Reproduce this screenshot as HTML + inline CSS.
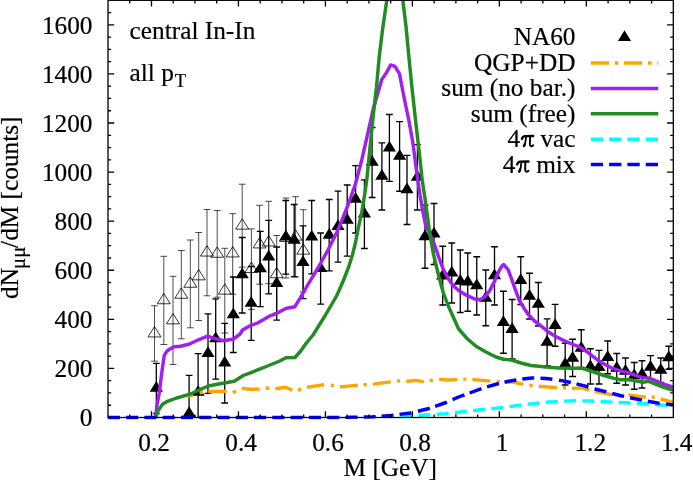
<!DOCTYPE html>
<html><head><meta charset="utf-8"><title>plot</title>
<style>
html,body{margin:0;padding:0;background:#fff;}
body{width:693px;height:481px;overflow:hidden;}
svg{display:block;will-change:transform;}
svg text{font-family:"Liberation Serif",serif;fill:#000;stroke:#000;stroke-width:0.2px;}
</style></head><body>
<svg width="693" height="481" viewBox="0 0 693 481">
<rect x="0" y="0" width="693" height="481" fill="#fff"/>
<defs><clipPath id="pc"><rect x="107.4" y="-2" width="566.5" height="420.1"/></clipPath><clipPath id="pc2"><rect x="107.7" y="-2" width="566.1" height="421.7"/></clipPath></defs>
<g clip-path="url(#pc)">
<path d="M154.50 305.80V361.20M151.10 305.80h6.8M151.10 361.20h6.8M163.80 256.30V344.50M160.40 256.30h6.8M160.40 344.50h6.8M173.00 276.30V364.50M169.60 276.30h6.8M169.60 364.50h6.8M181.30 250.50V338.80M177.90 250.50h6.8M177.90 338.80h6.8M190.30 240.00V327.80M186.90 240.00h6.8M186.90 327.80h6.8M198.70 232.50V320.50M195.30 232.50h6.8M195.30 320.50h6.8M207.00 209.50V295.80M203.60 209.50h6.8M203.60 295.80h6.8M217.20 210.50V297.20M213.80 210.50h6.8M213.80 297.20h6.8M224.80 248.30V333.00M221.40 248.30h6.8M221.40 333.00h6.8M232.70 213.70V294.20M229.30 213.70h6.8M229.30 294.20h6.8M242.20 184.20V267.20M238.80 184.20h6.8M238.80 267.20h6.8M251.40 228.90V309.40M248.00 228.90h6.8M248.00 309.40h6.8M259.60 205.30V284.20M256.20 205.30h6.8M256.20 284.20h6.8M268.70 201.30V283.70M265.30 201.30h6.8M265.30 283.70h6.8M276.70 235.50V313.00M273.30 235.50h6.8M273.30 313.00h6.8M286.00 198.00V278.00M282.60 198.00h6.8M282.60 278.00h6.8M295.60 196.70V277.00M292.20 196.70h6.8M292.20 277.00h6.8M303.30 209.70V292.00M299.90 209.70h6.8M299.90 292.00h6.8" stroke="#000" stroke-width="0.7" fill="none"/>
<path d="M154.50 326.60L148.00 336.95L161.00 336.95ZM163.80 293.40L157.30 303.75L170.30 303.75ZM173.00 313.50L166.50 323.85L179.50 323.85ZM181.30 287.90L174.80 298.25L187.80 298.25ZM190.30 276.90L183.80 287.25L196.80 287.25ZM198.70 269.50L192.20 279.85L205.20 279.85ZM207.00 245.70L200.50 256.05L213.50 256.05ZM217.20 246.90L210.70 257.25L223.70 257.25ZM224.80 283.80L218.30 294.15L231.30 294.15ZM232.70 246.60L226.20 256.95L239.20 256.95ZM242.20 218.80L235.70 229.15L248.70 229.15ZM251.40 262.20L244.90 272.55L257.90 272.55ZM259.60 237.60L253.10 247.95L266.10 247.95ZM268.70 235.60L262.20 245.95L275.20 245.95ZM276.70 267.40L270.20 277.75L283.20 277.75ZM286.00 231.10L279.50 241.45L292.50 241.45ZM295.60 229.80L289.10 240.15L302.10 240.15ZM303.30 243.80L296.80 254.15L309.80 254.15Z" stroke="#000" stroke-width="0.8" fill="none" stroke-linejoin="miter"/>
<path d="M156.30 363.30V413.50M152.90 363.30h6.8M152.90 413.50h6.8M189.10 375.30V451.70M185.70 375.30h6.8M185.70 451.70h6.8M198.10 353.70V431.00M194.70 353.70h6.8M194.70 431.00h6.8M208.00 313.80V393.30M204.60 313.80h6.8M204.60 393.30h6.8M215.70 298.80V379.20M212.30 298.80h6.8M212.30 379.20h6.8M224.70 323.30V403.00M221.30 323.30h6.8M221.30 403.00h6.8M233.30 277.00V352.50M229.90 277.00h6.8M229.90 352.50h6.8M242.20 237.50V313.00M238.80 237.50h6.8M238.80 313.00h6.8M251.20 266.50V340.30M247.80 266.50h6.8M247.80 340.30h6.8M260.30 231.30V306.70M256.90 231.30h6.8M256.90 306.70h6.8M268.70 220.30V293.80M265.30 220.30h6.8M265.30 293.80h6.8M276.70 247.00V320.20M273.30 247.00h6.8M273.30 320.20h6.8M285.80 200.50V274.20M282.40 200.50h6.8M282.40 274.20h6.8M294.20 204.50V276.70M290.80 204.50h6.8M290.80 276.70h6.8M303.00 225.80V298.70M299.60 225.80h6.8M299.60 298.70h6.8M311.70 200.50V273.80M308.30 200.50h6.8M308.30 273.80h6.8M320.60 233.00V304.20M317.20 233.00h6.8M317.20 304.20h6.8M329.20 199.50V270.80M325.80 199.50h6.8M325.80 270.80h6.8M338.00 191.20V262.20M334.60 191.20h6.8M334.60 262.20h6.8M347.20 185.00V256.20M343.80 185.00h6.8M343.80 256.20h6.8M355.60 165.70V233.00M352.20 165.70h6.8M352.20 233.00h6.8M364.40 179.80V248.50M361.00 179.80h6.8M361.00 248.50h6.8M372.10 127.50V197.50M368.70 127.50h6.8M368.70 197.50h6.8M381.90 142.80V210.00M378.50 142.80h6.8M378.50 210.00h6.8M389.40 114.50V181.40M386.00 114.50h6.8M386.00 181.40h6.8M399.60 121.60V191.25M396.20 121.60h6.8M396.20 191.25h6.8M407.00 155.30V224.50M403.60 155.30h6.8M403.60 224.50h6.8M417.40 144.60V210.00M414.00 144.60h6.8M414.00 210.00h6.8M425.00 205.00V268.25M421.60 205.00h6.8M421.60 268.25h6.8M434.00 203.50V264.50M430.60 203.50h6.8M430.60 264.50h6.8M442.70 246.25V305.00M439.30 246.25h6.8M439.30 305.00h6.8M451.75 243.00V303.00M448.35 243.00h6.8M448.35 303.00h6.8M460.25 250.00V312.50M456.85 250.00h6.8M456.85 312.50h6.8M467.75 253.00V311.25M464.35 253.00h6.8M464.35 311.25h6.8M476.75 256.75V315.00M473.35 256.75h6.8M473.35 315.00h6.8M485.75 270.00V325.75M482.35 270.00h6.8M482.35 325.75h6.8M494.50 246.75V305.00M491.10 246.75h6.8M491.10 305.00h6.8M503.40 291.25V353.25M500.00 291.25h6.8M500.00 353.25h6.8M512.10 299.50V359.00M508.70 299.50h6.8M508.70 359.00h6.8M520.75 256.75V304.50M517.35 256.75h6.8M517.35 304.50h6.8M529.50 273.25V319.00M526.10 273.25h6.8M526.10 319.00h6.8M538.30 282.50V326.00M534.90 282.50h6.8M534.90 326.00h6.8M547.10 318.90V365.60M543.70 318.90h6.8M543.70 365.60h6.8M555.10 304.40V346.25M551.70 304.40h6.8M551.70 346.25h6.8M565.20 343.25V385.00M561.80 343.25h6.8M561.80 385.00h6.8M572.60 339.25V376.50M569.20 339.25h6.8M569.20 376.50h6.8M581.25 329.75V367.50M577.85 329.75h6.8M577.85 367.50h6.8M590.40 348.75V384.00M587.00 348.75h6.8M587.00 384.00h6.8M599.00 350.40V384.00M595.60 350.40h6.8M595.60 384.00h6.8M607.70 341.00V373.75M604.30 341.00h6.8M604.30 373.75h6.8M616.75 353.50V383.25M613.35 353.50h6.8M613.35 383.25h6.8M625.50 358.00V385.00M622.10 358.00h6.8M622.10 385.00h6.8M634.25 362.50V389.25M630.85 362.50h6.8M630.85 389.25h6.8M642.00 360.75V388.00M638.60 360.75h6.8M638.60 388.00h6.8M650.50 355.60V378.80M647.10 355.60h6.8M647.10 378.80h6.8M660.75 358.00V382.50M657.35 358.00h6.8M657.35 382.50h6.8M668.75 346.25V369.25M665.35 346.25h6.8M665.35 369.25h6.8" stroke="#000" stroke-width="1.3" fill="none"/>
<path d="M156.30 381.10L149.70 391.85L162.90 391.85ZM189.10 406.20L182.50 416.95L195.70 416.95ZM198.10 385.00L191.50 395.75L204.70 395.75ZM208.00 346.20L201.40 356.95L214.60 356.95ZM215.70 331.50L209.10 342.25L222.30 342.25ZM224.70 355.80L218.10 366.55L231.30 366.55ZM233.30 307.40L226.70 318.15L239.90 318.15ZM242.20 267.60L235.60 278.35L248.80 278.35ZM251.20 296.10L244.60 306.85L257.80 306.85ZM260.30 261.60L253.70 272.35L266.90 272.35ZM268.70 249.70L262.10 260.45L275.30 260.45ZM276.70 276.30L270.10 287.05L283.30 287.05ZM285.80 229.70L279.20 240.45L292.40 240.45ZM294.20 233.00L287.60 243.75L300.80 243.75ZM303.00 255.20L296.40 265.95L309.60 265.95ZM311.70 229.70L305.10 240.45L318.30 240.45ZM320.60 261.20L314.00 271.95L327.20 271.95ZM329.20 227.90L322.60 238.65L335.80 238.65ZM338.00 219.30L331.40 230.05L344.60 230.05ZM347.20 213.00L340.60 223.75L353.80 223.75ZM355.60 191.90L349.00 202.65L362.20 202.65ZM364.40 206.70L357.80 217.45L371.00 217.45ZM372.10 155.00L365.50 165.75L378.70 165.75ZM381.90 168.90L375.30 179.65L388.50 179.65ZM389.40 140.70L382.80 151.45L396.00 151.45ZM399.60 149.00L393.00 159.75L406.20 159.75ZM407.00 182.50L400.40 193.25L413.60 193.25ZM417.40 170.00L410.80 180.75L424.00 180.75ZM425.00 229.50L418.40 240.25L431.60 240.25ZM434.00 226.70L427.40 237.45L440.60 237.45ZM442.70 268.70L436.10 279.45L449.30 279.45ZM451.75 265.70L445.15 276.45L458.35 276.45ZM460.25 274.10L453.65 284.85L466.85 284.85ZM467.75 274.70L461.15 285.45L474.35 285.45ZM476.75 278.40L470.15 289.15L483.35 289.15ZM485.75 290.90L479.15 301.65L492.35 301.65ZM494.50 268.40L487.90 279.15L501.10 279.15ZM503.40 315.20L496.80 325.95L510.00 325.95ZM512.10 322.20L505.50 332.95L518.70 332.95ZM520.75 273.20L514.15 283.95L527.35 283.95ZM529.50 288.90L522.90 299.65L536.10 299.65ZM538.30 297.10L531.70 307.85L544.90 307.85ZM547.10 335.00L540.50 345.75L553.70 345.75ZM555.10 318.20L548.50 328.95L561.70 328.95ZM565.20 357.10L558.60 367.85L571.80 367.85ZM572.60 350.90L566.00 361.65L579.20 361.65ZM581.25 341.10L574.65 351.85L587.85 351.85ZM590.40 359.50L583.80 370.25L597.00 370.25ZM599.00 360.20L592.40 370.95L605.60 370.95ZM607.70 350.30L601.10 361.05L614.30 361.05ZM616.75 361.10L610.15 371.85L623.35 371.85ZM625.50 364.10L618.90 374.85L632.10 374.85ZM634.25 368.40L627.65 379.15L640.85 379.15ZM642.00 367.20L635.40 377.95L648.60 377.95ZM650.50 359.90L643.90 370.65L657.10 370.65ZM660.75 363.00L654.15 373.75L667.35 373.75ZM668.75 350.50L662.15 361.25L675.35 361.25Z" stroke="none" fill="#000"/>
</g>
<g clip-path="url(#pc2)">
<g fill="none" stroke-width="3.45" stroke-linejoin="round">
<path d="M188.80 396.30 L193.00 395.20M199.50 392.90 L202.90 392.30M208.40 391.50 L226.70 391.20M233.00 392.90 L236.00 390.80M241.60 388.40 L250.50 389.30 L259.50 389.30M265.60 388.30 L269.40 388.10M275.40 388.80 L285.70 387.30 L292.30 390.30M297.90 390.20 L301.30 389.20M306.90 387.30 L324.20 384.60M330.75 385.40 L334.00 385.50M339.75 386.90 L357.90 385.30M363.50 384.80 L366.90 384.60M372.90 384.10 L390.70 381.90M396.90 381.10 L400.10 380.90M406.30 381.50 L416.00 380.40 L423.90 381.90M429.70 380.50 L432.90 380.30M439.10 379.10 L448.00 380.00 L457.30 379.60M463.30 379.10 L466.30 379.10M472.40 379.40 L490.40 381.10M496.60 381.60 L499.80 381.80M506.30 381.80 L512.90 382.10 L523.20 384.30M529.40 385.20 L532.60 385.60M538.80 386.20 L557.00 387.70M563.00 387.70 L566.00 387.80M572.00 388.40 L581.60 387.70 L589.40 390.20M594.80 391.40 L612.70 394.90M618.70 395.60 L622.30 396.00M628.30 394.90 L645.70 397.20M651.70 397.20 L654.70 397.30M660.60 399.00 L673.40 402.30" stroke="#ffa500"/>
<path d="M155.60 417.50 L157.00 405.00 L159.20 393.30 L161.70 373.30 L164.20 355.80 L166.25 352.00 L168.30 350.00 L171.25 348.25 L174.20 346.70 L180.50 346.20 L189.00 344.30 L198.50 339.80 L207.50 336.20 L215.00 338.60 L224.00 340.70 L233.50 339.00 L240.00 334.20 L242.50 330.00 L250.00 325.75 L257.50 323.00 L265.00 318.75 L270.00 315.80 L276.70 313.30 L285.80 308.50 L294.70 306.80 L300.00 298.30 L308.30 284.00 L318.00 268.00 L328.00 250.00 L338.00 230.00 L348.00 205.00 L355.50 183.75 L361.75 160.00 L368.00 132.50 L373.00 110.00 L378.00 92.50 L381.80 79.50 L386.50 72.60 L390.60 65.00 L395.00 66.40 L399.50 73.90 L402.50 89.50 L406.20 108.00 L408.80 120.00 L412.80 142.50 L417.50 178.00 L420.10 195.60 L422.50 209.60 L425.60 225.20 L429.50 233.50 L433.30 241.50 L435.60 247.80 L438.70 257.20 L443.40 269.60 L448.10 278.20 L452.80 285.20 L459.00 290.70 L466.80 295.40 L474.60 299.00 L480.10 299.80 L484.90 296.60 L489.80 290.60 L494.50 281.30 L499.20 270.70 L502.00 266.00 L503.60 264.50 L508.10 269.60 L511.60 279.00 L515.50 290.20 L519.50 300.80 L523.70 307.70 L528.40 314.70 L534.50 321.00 L540.30 325.30 L548.40 332.00 L556.20 336.70 L564.00 340.60 L571.80 344.00 L580.00 347.20 L586.20 351.20 L592.50 356.20 L598.70 360.60 L605.00 364.50 L611.20 367.80 L613.00 368.30 L620.50 370.80 L629.25 373.00 L638.00 376.10 L643.00 377.70 L648.00 377.90 L653.00 379.70 L660.00 382.70 L663.00 384.00 L673.30 387.20" stroke="#a020f0"/>
<path d="M155.60 417.50 L158.30 410.20 L160.00 408.00 L162.50 404.20 L166.70 401.70 L176.70 398.00 L190.00 394.20 L200.00 389.50 L208.30 386.00 L220.00 383.80 L234.20 381.20 L243.30 375.50 L251.70 372.30 L260.20 368.90 L265.00 367.00 L273.00 363.75 L279.25 361.25 L286.00 357.75 L295.00 357.50 L300.50 351.25 L306.75 342.50 L313.00 335.00 L319.25 325.00 L325.50 315.00 L331.30 305.00 L336.80 295.50 L343.00 281.50 L348.50 267.40 L352.40 255.00 L355.50 242.50 L357.90 230.00 L361.75 212.50 L365.00 192.50 L366.75 180.00 L369.25 155.00 L373.00 117.50 L376.50 87.00 L379.20 57.00 L382.50 30.00 L386.80 0.30 L387.50 -6.00 L402.00 -6.00 L402.80 0.30 L406.00 26.25 L408.80 56.00 L411.90 87.00 L415.50 120.00 L419.25 152.50 L422.20 180.00 L424.80 197.20 L427.20 214.30 L429.50 231.50 L431.40 243.00 L433.30 253.50 L436.40 266.50 L439.50 279.00 L443.40 293.00 L448.10 305.50 L452.80 316.00 L458.50 328.75 L467.25 338.75 L476.00 346.25 L486.00 352.00 L496.00 357.00 L503.50 359.25 L511.50 360.00 L521.00 363.00 L531.00 365.50 L546.00 367.00 L558.50 368.00 L571.00 368.25 L582.25 368.25 L591.00 371.00 L601.00 374.50 L611.00 377.50 L613.00 378.10 L620.50 379.75 L629.25 379.75 L638.00 381.25 L643.00 382.25 L648.00 381.25 L653.00 383.10 L663.00 387.10 L673.30 390.30" stroke="#228b22"/>
<path d="M400.30 416.26 L400.50 416.25 L412.30 415.68M418.50 415.37 L420.00 415.30 L430.50 414.67M436.70 414.30 L446.00 413.75 L448.70 413.44M454.90 412.71 L461.00 412.00 L466.90 411.31M473.10 410.59 L476.00 410.25 L485.10 409.34M491.30 408.72 L503.30 407.34M509.50 406.62 L521.50 405.08M527.70 404.31 L539.70 402.99M545.90 402.31 L546.00 402.30 L557.90 401.47M564.10 401.15 L576.00 400.75 L576.10 400.75M582.30 400.86 L591.00 401.00 L594.30 401.17M600.50 401.48 L606.00 401.75 L612.50 402.10M618.70 402.43 L620.00 402.50 L630.70 402.93M636.90 403.26 L645.00 403.75 L648.90 404.06M655.10 404.56 L657.50 404.75 L667.10 405.36M673.30 405.75 L673.65 405.75" stroke="#00ffff"/>
<path d="M108.00 417.50 L119.90 417.50M126.08 417.50 L138.18 417.50M144.36 417.50 L156.46 417.50M162.64 417.50 L174.74 417.50M180.92 417.50 L193.02 417.50M199.20 417.50 L211.30 417.50M217.48 417.50 L229.58 417.50M235.76 417.50 L247.86 417.50M254.04 417.50 L266.14 417.50M272.32 417.50 L284.42 417.50M290.60 417.50 L302.70 417.50M308.88 417.50 L320.98 417.50M327.16 417.50 L330.00 417.50 L339.26 417.41M345.44 417.35 L350.00 417.30 L357.54 417.14M363.80 417.00 L373.00 416.80 L375.70 416.60M381.60 416.16 L390.50 415.50 L393.50 415.12M399.50 414.38 L410.50 413.00 L411.40 412.78M417.90 411.20 L428.00 408.75 L429.80 408.12M435.10 406.28 L446.00 402.50 L447.00 402.06M452.60 399.60 L458.50 397.00 L464.50 394.84M469.60 393.00 L471.00 392.50 L481.50 388.72M487.00 386.95 L496.00 384.25 L498.90 383.55M504.50 382.21 L508.50 381.25 L516.40 379.95M522.30 379.06 L532.25 378.00 L534.20 378.07M540.50 378.30 L546.00 378.50 L552.40 379.27M558.90 380.08 L570.80 382.46M576.50 383.86 L583.50 385.60 L588.40 387.03M594.50 388.81 L596.00 389.25 L606.40 391.95M612.20 393.47 L620.00 395.50 L624.10 396.40M630.00 397.70 L632.50 398.25 L641.90 400.13M647.80 401.25 L657.50 403.00 L659.70 403.28M666.00 404.08 L673.25 405.00 L673.65 405.00" stroke="#0000ff"/>
</g>
</g>
<g stroke="#000" stroke-width="1.3" fill="none">
<rect x="108" y="0.3" width="565.3" height="417.2"/>
<path d="M129.74 417.50v-3.10M129.74 0.30v3.10M151.48 417.50v-6.20M151.48 0.30v6.20M173.23 417.50v-3.10M173.23 0.30v3.10M194.97 417.50v-3.10M194.97 0.30v3.10M216.71 417.50v-3.10M216.71 0.30v3.10M238.45 417.50v-6.20M238.45 0.30v6.20M260.20 417.50v-3.10M260.20 0.30v3.10M281.94 417.50v-3.10M281.94 0.30v3.10M303.68 417.50v-3.10M303.68 0.30v3.10M325.42 417.50v-6.20M325.42 0.30v6.20M347.17 417.50v-3.10M347.17 0.30v3.10M368.91 417.50v-3.10M368.91 0.30v3.10M390.65 417.50v-3.10M390.65 0.30v3.10M412.39 417.50v-6.20M412.39 0.30v6.20M434.13 417.50v-3.10M434.13 0.30v3.10M455.88 417.50v-3.10M455.88 0.30v3.10M477.62 417.50v-3.10M477.62 0.30v3.10M499.36 417.50v-6.20M499.36 0.30v6.20M521.10 417.50v-3.10M521.10 0.30v3.10M542.85 417.50v-3.10M542.85 0.30v3.10M564.59 417.50v-3.10M564.59 0.30v3.10M586.33 417.50v-6.20M586.33 0.30v6.20M608.07 417.50v-3.10M608.07 0.30v3.10M629.82 417.50v-3.10M629.82 0.30v3.10M651.56 417.50v-3.10M651.56 0.30v3.10M108.00 405.23h3.10M673.30 405.23h-3.10M108.00 392.96h3.10M673.30 392.96h-3.10M108.00 380.69h3.10M673.30 380.69h-3.10M108.00 368.42h6.20M673.30 368.42h-6.20M108.00 356.15h3.10M673.30 356.15h-3.10M108.00 343.88h3.10M673.30 343.88h-3.10M108.00 331.61h3.10M673.30 331.61h-3.10M108.00 319.34h6.20M673.30 319.34h-6.20M108.00 307.06h3.10M673.30 307.06h-3.10M108.00 294.79h3.10M673.30 294.79h-3.10M108.00 282.52h3.10M673.30 282.52h-3.10M108.00 270.25h6.20M673.30 270.25h-6.20M108.00 257.98h3.10M673.30 257.98h-3.10M108.00 245.71h3.10M673.30 245.71h-3.10M108.00 233.44h3.10M673.30 233.44h-3.10M108.00 221.17h6.20M673.30 221.17h-6.20M108.00 208.90h3.10M673.30 208.90h-3.10M108.00 196.63h3.10M673.30 196.63h-3.10M108.00 184.36h3.10M673.30 184.36h-3.10M108.00 172.09h6.20M673.30 172.09h-6.20M108.00 159.82h3.10M673.30 159.82h-3.10M108.00 147.55h3.10M673.30 147.55h-3.10M108.00 135.28h3.10M673.30 135.28h-3.10M108.00 123.01h6.20M673.30 123.01h-6.20M108.00 110.74h3.10M673.30 110.74h-3.10M108.00 98.46h3.10M673.30 98.46h-3.10M108.00 86.19h3.10M673.30 86.19h-3.10M108.00 73.92h6.20M673.30 73.92h-6.20M108.00 61.65h3.10M673.30 61.65h-3.10M108.00 49.38h3.10M673.30 49.38h-3.10M108.00 37.11h3.10M673.30 37.11h-3.10M108.00 24.84h6.20M673.30 24.84h-6.20M108.00 12.57h3.10M673.30 12.57h-3.10"/>
</g>
<g font-size="25.3">
<text x="92.5" y="426.40" text-anchor="end">0</text>
<text x="92.5" y="377.32" text-anchor="end">200</text>
<text x="92.5" y="328.24" text-anchor="end">400</text>
<text x="92.5" y="279.15" text-anchor="end">600</text>
<text x="92.5" y="230.07" text-anchor="end">800</text>
<text x="92.5" y="180.99" text-anchor="end">1000</text>
<text x="92.5" y="131.91" text-anchor="end">1200</text>
<text x="92.5" y="82.82" text-anchor="end">1400</text>
<text x="92.5" y="33.74" text-anchor="end">1600</text>
<text x="154.08" y="451.3" text-anchor="middle">0.2</text>
<text x="241.05" y="451.3" text-anchor="middle">0.4</text>
<text x="328.02" y="451.3" text-anchor="middle">0.6</text>
<text x="414.99" y="451.3" text-anchor="middle">0.8</text>
<text x="502.16" y="451.3" text-anchor="middle">1</text>
<text x="590.23" y="451.3" text-anchor="middle">1.2</text>
<text x="676.70" y="451.3" text-anchor="middle">1.4</text>
<text x="390.3" y="476.2" text-anchor="middle">M [GeV]</text>
<text transform="translate(18.3,299) rotate(-90)" x="0" y="0">dN<tspan font-size="20.5" dy="6.2" dx="-1" letter-spacing="0.3">μμ</tspan><tspan dy="-6.2" dx="-1.4">/dM [counts]</tspan></text>
<text x="129.6" y="39.3">central In-In</text>
<text x="129.6" y="80.5">all p<tspan font-size="18.6" dy="6.3" dx="0.8">T</tspan></text>
<text x="575.5" y="45.30" text-anchor="end">NA60</text>
<text x="575.5" y="70.90" text-anchor="end">QGP+DD</text>
<text x="575.5" y="96.30" text-anchor="end">sum (no bar.)</text>
<text x="575.5" y="121.60" text-anchor="end">sum (free)</text>
<text x="575.5" y="147.10" text-anchor="end"> vac</text>
<text x="520.10" y="147.10" text-anchor="end">4</text>
<g transform="translate(521.20,147.10)" fill="none" stroke="#000" stroke-linecap="round" stroke-linejoin="round"><path d="M0.7 -8.3C1.3 -10.2 2.3 -11 3.9 -11L12 -11.1" stroke-width="2.4"/><path d="M4.9 -10.6C4.7 -7 4.2 -3.6 2.9 -1.0" stroke-width="1.8"/><path d="M3.6 -3.0C3.3 -2 3.0 -1.4 2.7 -1.0" stroke-width="2.4"/><path d="M8.8 -10.6L8.7 -3.0C8.7 -0.6 10.2 -0.4 12.0 -1.9" stroke-width="1.95"/></g>
<text x="575.5" y="172.60" text-anchor="end"> mix</text>
<text x="515.40" y="172.60" text-anchor="end">4</text>
<g transform="translate(516.50,172.60)" fill="none" stroke="#000" stroke-linecap="round" stroke-linejoin="round"><path d="M0.7 -8.3C1.3 -10.2 2.3 -11 3.9 -11L12 -11.1" stroke-width="2.4"/><path d="M4.9 -10.6C4.7 -7 4.2 -3.6 2.9 -1.0" stroke-width="1.8"/><path d="M3.6 -3.0C3.3 -2 3.0 -1.4 2.7 -1.0" stroke-width="2.4"/><path d="M8.8 -10.6L8.7 -3.0C8.7 -0.6 10.2 -0.4 12.0 -1.9" stroke-width="1.95"/></g>
</g>
<path d="M624.5 30.2L617.9 40.9L631.1 40.9Z" fill="#000"/>
<g fill="none" stroke-width="3.5">
<path d="M590.8 63H658.3" stroke="#ffa500" stroke-dasharray="18.2 5.7 3.6 5.7"/>
<path d="M590.8 88.4H658.3" stroke="#a020f0"/>
<path d="M590.8 113.7H658.3" stroke="#228b22"/>
<path d="M590.8 139.2H658.3" stroke="#00ffff" stroke-dasharray="12.3 6.0"/>
<path d="M590.8 164.6H658.3" stroke="#0000ff" stroke-dasharray="12.3 6.0"/>
</g>
</svg>
</body></html>
